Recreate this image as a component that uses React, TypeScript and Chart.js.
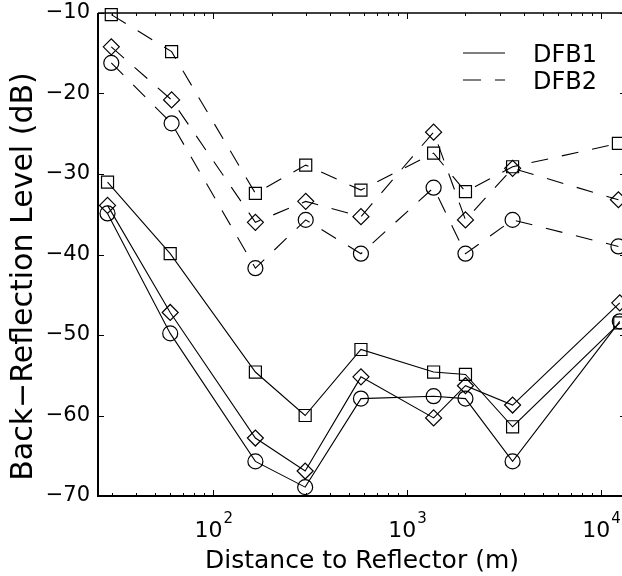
import React, { useEffect, useRef } from "react";
import { Chart, registerables } from "chart.js";

Chart.register(...registerables);

const FONT = "'DejaVu Sans', 'Liberation Sans', sans-serif";

// Distances (m)
const distancesDFB1 = [28.5, 60, 165, 298, 578, 1370, 2000, 3500, 12500];
const distancesDFB2 = [29.8, 61, 165, 300, 578, 1370, 2000, 3500, 12300];

// Back-reflection levels (dB)
const dfb1Square = [-31.0, -39.9, -54.6, -60.0, -51.8, -54.6, -54.9, -61.4, -48.5];
const dfb1Diamond = [-33.9, -47.2, -62.8, -66.9, -55.2, -60.3, -56.3, -58.7, -46.0];
const dfb1Circle = [-34.9, -49.8, -65.7, -68.9, -57.9, -57.6, -57.9, -65.7, -48.3];

const dfb2Square = [-10.2, -14.8, -32.4, -28.9, -32.0, -27.4, -32.2, -29.1, -26.2];
const dfb2Diamond = [-14.2, -20.8, -36.0, -33.4, -35.3, -24.8, -35.7, -29.3, -33.2];
const dfb2Circle = [-16.2, -23.7, -41.7, -35.7, -39.9, -31.7, -39.9, -35.7, -39.0];

// Axis config
const X_MIN = 25.45;
const X_MAX = 13460;
const Y_MIN = -70;
const Y_MAX = -10;
const Y_STEP = 10;
const xMajorTicks = [100, 1000, 10000];
const xMajorBase = "10";
const xMajorExponents = ["2", "3", "4"];

const xTitle = "Distance to Reflector (m)";
const yTitle = "Back\u2212Reflection Level (dB)";
const legendLabels = ["DFB1", "DFB2"];
const DASH = [17, 14];

function series(label: string, dist: number[], values: number[], style: string, radius: number, dashed: boolean) {
  return {
    label,
    data: dist.map((x, i) => ({ x, y: values[i] })),
    borderColor: "#000",
    backgroundColor: "transparent",
    borderWidth: 1.1,
    borderDash: dashed ? DASH : [],
    pointStyle: style,
    pointRadius: radius,
    pointHoverRadius: radius,
    pointBorderWidth: 1.2,
    pointBorderColor: "#000",
    pointBackgroundColor: "transparent",
    tension: 0,
    clip: false,
  };
}

const framePlugin = {
  id: "frame",
  afterDraw(chart: any) {
    const { ctx, chartArea: a, scales } = chart;
    const xs = scales.x;
    const ys = scales.y;
    ctx.save();
    ctx.strokeStyle = "#000";
    ctx.fillStyle = "#000";
    ctx.setLineDash([]);

    // ticks (inward, all four sides)
    ctx.lineWidth = 1;
    ctx.beginPath();
    const e0 = Math.floor(Math.log10(xs.min));
    const e1 = Math.ceil(Math.log10(xs.max));
    for (let e = e0; e <= e1; e++) {
      for (let m = 1; m <= 9; m++) {
        const v = m * Math.pow(10, e);
        if (v < xs.min || v > xs.max) continue;
        const len = m === 1 ? 6 : 3;
        const px = Math.round(xs.getPixelForValue(v)) + 0.5;
        ctx.moveTo(px, a.bottom);
        ctx.lineTo(px, a.bottom - len);
        ctx.moveTo(px, a.top);
        ctx.lineTo(px, a.top + len);
      }
    }
    ys.ticks.forEach((t: any) => {
      const py = Math.round(ys.getPixelForValue(t.value)) + 0.5;
      ctx.moveTo(a.left, py);
      ctx.lineTo(a.left + 6, py);
      ctx.moveTo(a.right, py);
      ctx.lineTo(a.right - 6, py);
    });
    ctx.stroke();

    // box
    ctx.lineWidth = 2;
    ctx.beginPath();
    ctx.moveTo(a.left, a.top);
    ctx.lineTo(a.left, a.bottom);
    ctx.lineTo(a.right, a.bottom);
    ctx.stroke();
    ctx.lineWidth = 1.3;
    ctx.beginPath();
    ctx.moveTo(a.left, a.top);
    ctx.lineTo(a.right, a.top);
    ctx.lineTo(a.right, a.bottom);
    ctx.stroke();

    // x tick labels: 10 with superscript exponent
    ctx.textBaseline = "alphabetic";
    ctx.textAlign = "left";
    xMajorTicks.forEach((v, i) => {
      if (v < xs.min || v > xs.max) return;
      const px = xs.getPixelForValue(v);
      ctx.font = `22px ${FONT}`;
      const wb = ctx.measureText(xMajorBase).width;
      ctx.font = `15px ${FONT}`;
      const we = ctx.measureText(xMajorExponents[i]).width;
      const x0 = px - (wb + we) / 2;
      ctx.font = `22px ${FONT}`;
      ctx.fillText(xMajorBase, x0, a.bottom + 41);
      ctx.font = `15px ${FONT}`;
      ctx.fillText(xMajorExponents[i], x0 + wb + 1, a.bottom + 27);
    });

    // y title
    ctx.save();
    ctx.translate(32, (a.top + a.bottom) / 2 + 22);
    ctx.rotate(-Math.PI / 2);
    ctx.font = `30px ${FONT}`;
    ctx.textAlign = "center";
    ctx.textBaseline = "alphabetic";
    ctx.fillText(yTitle, 0, 0);
    ctx.restore();

    // legend
    ctx.font = `24px ${FONT}`;
    ctx.textAlign = "left";
    ctx.textBaseline = "alphabetic";
    ctx.lineWidth = 1.2;
    legendLabels.forEach((lab, i) => {
      const ly = a.top + 40 + i * 27;
      ctx.setLineDash(i === 0 ? [] : [18, 14]);
      ctx.beginPath();
      ctx.moveTo(a.left + 365, ly);
      ctx.lineTo(a.left + 407, ly);
      ctx.stroke();
      ctx.setLineDash([]);
      ctx.fillText(lab, a.left + 435, ly + 9);
    });
    ctx.restore();
  },
};

export default function App() {
  const ref = useRef<HTMLCanvasElement | null>(null);

  useEffect(() => {
    if (!ref.current) return;
    const chart = new Chart(ref.current, {
      type: "line",
      data: {
        datasets: [
          series("DFB1 square", distancesDFB1, dfb1Square, "rect", 8.5, false),
          series("DFB1 diamond", distancesDFB1, dfb1Diamond, "rectRot", 8, false),
          series("DFB1 circle", distancesDFB1, dfb1Circle, "circle", 7.5, false),
          series("DFB2 square", distancesDFB2, dfb2Square, "rect", 8.5, true),
          series("DFB2 diamond", distancesDFB2, dfb2Diamond, "rectRot", 8, true),
          series("DFB2 circle", distancesDFB2, dfb2Circle, "circle", 7.5, true),
        ] as any,
      },
      options: {
        responsive: false,
        animation: false,
        devicePixelRatio: 1,
        events: [],
        layout: { padding: { top: 13, right: 54, left: 0, bottom: 0 } },
        plugins: { legend: { display: false }, tooltip: { enabled: false } },
        scales: {
          x: {
            type: "logarithmic",
            min: X_MIN,
            max: X_MAX,
            grid: { display: false, drawTicks: false },
            border: { display: false },
            ticks: { display: false },
            title: {
              display: true,
              text: xTitle,
              color: "#000",
              font: { family: FONT, size: 25 },
              padding: { top: 0, bottom: 0 },
            },
            afterFit: (s: any) => {
              s.height = 80;
              s.paddingLeft = 0;
              s.paddingRight = 0;
            },
          },
          y: {
            type: "linear",
            min: Y_MIN,
            max: Y_MAX,
            grid: { display: false, drawTicks: false },
            border: { display: false },
            ticks: {
              stepSize: Y_STEP,
              padding: 8,
              color: "#000",
              font: { family: FONT, size: 21 },
              callback: (v: any) => (Number(v) < 0 ? "\u2212" + Math.abs(Number(v)) : String(v)),
            },
            afterFit: (s: any) => {
              s.width = 98;
              s.paddingTop = 0;
              s.paddingBottom = 0;
            },
          },
        },
      } as any,
      plugins: [framePlugin],
    });
    return () => chart.destroy();
  }, []);

  return (
    <div
      style={{
        position: "fixed",
        left: 0,
        top: 0,
        width: 622,
        height: 576,
        overflow: "hidden",
        background: "#fff",
      }}
    >
      <canvas ref={ref} width={680} height={576} style={{ display: "block", width: 680, height: 576 }} />
    </div>
  );
}
